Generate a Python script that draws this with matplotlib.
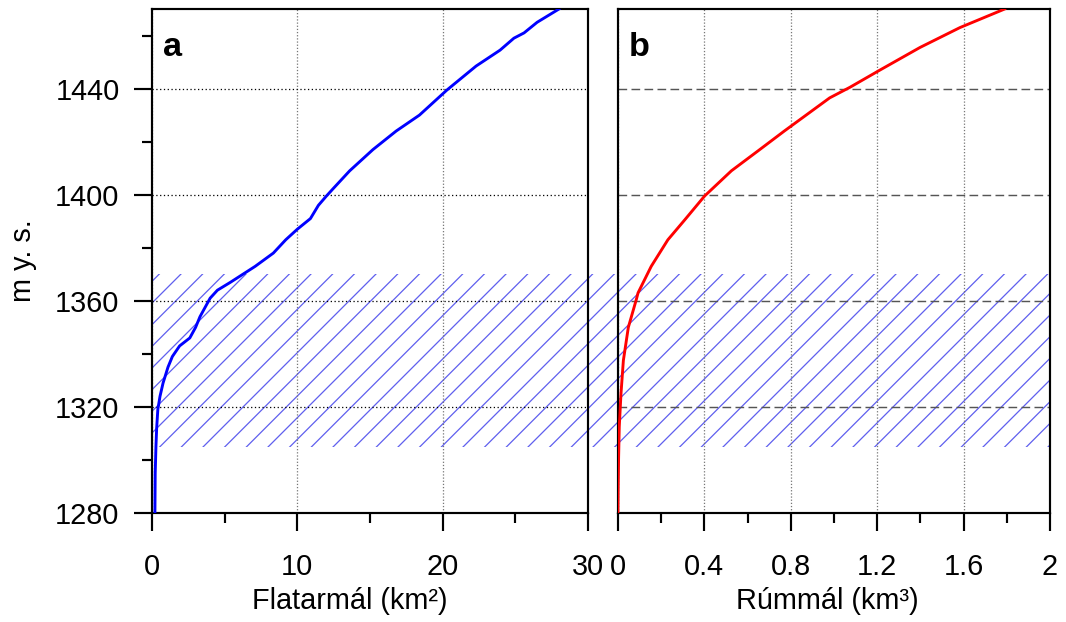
import matplotlib
matplotlib.use("Agg")
import matplotlib.pyplot as plt
from matplotlib.patches import Rectangle
from matplotlib.ticker import MultipleLocator
from matplotlib.transforms import blended_transform_factory

plt.rcParams['font.family'] = ['Liberation Sans', 'DejaVu Sans']
plt.rcParams['hatch.linewidth'] = 0.7
plt.rcParams['hatch.color'] = '#6060ee'

# area (km2) vs elevation (m a.s.l.)
area_elev = [1280, 1295, 1305, 1312, 1319, 1324, 1329, 1335, 1339, 1343, 1346,
             1350, 1354, 1357, 1361, 1364, 1367, 1373, 1378, 1383, 1387, 1391,
             1396, 1399.5, 1402.5, 1409, 1417, 1424, 1430, 1433, 1439.5, 1444,
             1448.5, 1454.5, 1459, 1461, 1465, 1470]
area_km2 = [0.2, 0.22, 0.27, 0.32, 0.4, 0.55, 0.76, 1.1, 1.4, 1.9, 2.6,
            3.0, 3.3, 3.6, 4.0, 4.5, 5.4, 7.1, 8.35, 9.2, 10.0, 10.9,
            11.45, 12.0, 12.5, 13.6, 15.2, 16.8, 18.4, 19.0, 20.3, 21.3,
            22.3, 23.95, 24.9, 25.6, 26.5, 28.0]

# volume (km3) vs elevation
vol_elev = [1280, 1290, 1301, 1312.5, 1325, 1337.5, 1350, 1360.5, 1363, 1373,
            1383, 1390.5, 1399.5, 1409, 1416.5, 1424, 1436.5, 1440.5, 1447,
            1455.5, 1463, 1470]
vol_km3 = [0.0, 0.001, 0.003, 0.006, 0.014, 0.025, 0.048, 0.085, 0.093, 0.154,
           0.231, 0.309, 0.401, 0.525, 0.648, 0.77, 0.98, 1.074, 1.213,
           1.398, 1.583, 1.79]

band_lo, band_hi = 1305, 1370

dpi = 130
fig = plt.figure(figsize=(1066 / dpi, 622 / dpi), dpi=dpi)
ax1 = fig.add_axes([0.1426, 0.1752, 0.409, 0.8103])
ax2 = fig.add_axes([0.5797, 0.1752, 0.4053, 0.8103])

for ax in (ax1, ax2):
    ax.set_facecolor('none')
    ax.set_ylim(1280, 1470)
    ax.yaxis.set_major_locator(MultipleLocator(40))
    ax.yaxis.set_minor_locator(MultipleLocator(20))
    for s in ax.spines.values():
        s.set_linewidth(1.2)
    ax.tick_params(which='major', direction='out', length=10, width=1.2,
                   labelsize=16, pad=12)
    ax.tick_params(which='minor', direction='out', length=5.5, width=1.2)
    ax.tick_params(axis='y', which='major', pad=8)
    ax.set_axisbelow(True)

# panel a
ax1.plot(area_km2, area_elev, color='#0000ff', lw=1.6, zorder=3)
ax1.set_xlim(0, 30)
ax1.xaxis.set_major_locator(MultipleLocator(10))
ax1.xaxis.set_minor_locator(MultipleLocator(5))
ax1.yaxis.grid(True, linestyle=(0, (1, 2)), color='k', lw=0.7)
ax1.xaxis.grid(True, linestyle=(0, (1, 1.5)), color='#777777', lw=0.7)
ax1.set_xlabel('Flatarmál (km²)', fontsize=16)
ax1.xaxis.set_label_coords(0.454, -0.147)
ax1.set_ylabel('m y. s.', fontsize=16, labelpad=10)
ax1.text(0.025, 0.955, 'a', transform=ax1.transAxes, fontsize=19,
         fontweight='bold', va='top', ha='left')

# panel b
ax2.plot(vol_km3, vol_elev, color='#ff0000', lw=1.6, zorder=3)
ax2.set_xlim(0, 2)
ax2.xaxis.set_major_locator(MultipleLocator(0.4))
ax2.xaxis.set_minor_locator(MultipleLocator(0.2))
ax2.xaxis.set_major_formatter(plt.FuncFormatter(lambda v, p: f'{v:g}'))
ax2.tick_params(axis='y', which='both', left=False, labelleft=False)
ax2.yaxis.grid(True, linestyle=(0, (6, 3)), color='#555555', lw=0.8)
ax2.xaxis.grid(True, linestyle=(0, (1, 1.5)), color='#777777', lw=0.7)
ax2.set_xlabel('Rúmmál (km³)', fontsize=16)
ax2.xaxis.set_label_coords(0.484, -0.147)
ax2.text(0.025, 0.955, 'b', transform=ax2.transAxes, fontsize=19,
         fontweight='bold', va='top', ha='left')

# hatched band across both panels
trans = blended_transform_factory(fig.transFigure, ax1.transData)
band = Rectangle((0.1426, band_lo), 0.985 - 0.1426, band_hi - band_lo,
                 transform=trans, fill=False, hatch='//', edgecolor='#6060ee',
                 linewidth=0, zorder=-1)
fig.add_artist(band)

fig.savefig('out.png', dpi=dpi)
